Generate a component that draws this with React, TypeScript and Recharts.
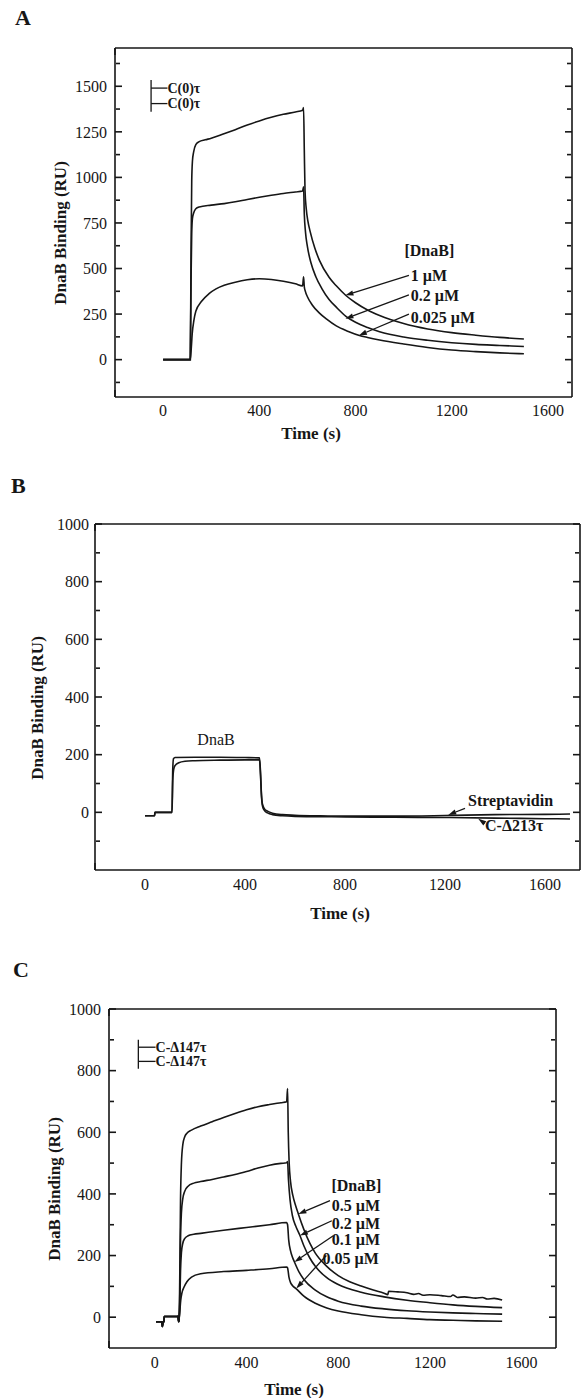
import React from 'react';
import { LineChart, Line, XAxis, YAxis, ReferenceLine, ReferenceDot, Label } from 'recharts';

const SERIF = '"Liberation Serif", "Times New Roman", "DejaVu Serif", serif';
const INK = '#161616';

// ---- panel A: C(0)tau surface, [time s, RU]
const a1uM = [
  [0, 0], [113, 0], [116, 550], [119, 980], [122, 1090], [127, 1140], [136, 1180], [150, 1196],
  [175, 1206], [200, 1215], [250, 1238], [300, 1262], [350, 1287], [400, 1310], [450, 1330],
  [500, 1346], [550, 1359], [580, 1368], [584, 1383], [587, 1150], [590, 930], [595, 830],
  [602, 760], [612, 700], [630, 615], [650, 545], [690, 452], [720, 405], [760, 352], [800, 312],
  [850, 272], [900, 242], [1000, 198], [1100, 168], [1200, 148], [1300, 134], [1400, 122], [1500, 113],
];
const a02uM = [
  [0, 0], [113, 0], [116, 420], [119, 700], [122, 775], [127, 805], [136, 828], [150, 838],
  [200, 848], [254, 856], [300, 866], [350, 879], [400, 891], [450, 902], [500, 912], [550, 920],
  [580, 925], [584, 948], [587, 800], [592, 700], [600, 620], [615, 530], [635, 455], [660, 390],
  [690, 330], [720, 288], [760, 238], [800, 205], [850, 176], [900, 153], [1000, 124], [1100, 106],
  [1200, 93], [1300, 84], [1400, 78], [1500, 72],
];
const a0025uM = [
  [0, 0], [113, 0], [117, 60], [121, 143], [128, 215], [136, 265], [160, 320], [191, 362],
  [220, 388], [254, 408], [300, 425], [350, 438], [400, 444], [450, 440], [500, 430], [550, 416],
  [580, 405], [584, 455], [587, 400], [592, 372], [600, 345], [620, 300], [650, 255], [680, 222],
  [720, 185], [770, 155], [816, 133], [850, 122], [900, 108], [1000, 86], [1100, 67], [1200, 53],
  [1300, 44], [1400, 37], [1500, 32],
];
const aArrows = [[1022, 463, 758, 353], [1022, 355, 758, 225], [1022, 250, 814, 133]];
const aLabels: [number, number, string][] = [[1030, 463, '1 µM'], [1030, 353, '0.2 µM'], [1030, 232, '0.025 µM']];

// ---- panel B: DnaB over streptavidin / C-Δ213τ
const bStrept = [
  [0, -12], [38, -12], [40, 0], [108, 0], [111, 150], [114, 186], [120, 190], [200, 191],
  [300, 191], [400, 190], [458, 189], [462, 140], [466, 60], [470, 28], [478, 12], [490, 4],
  [510, -3], [550, -8], [600, -10], [700, -12], [800, -13], [1000, -13], [1200, -11], [1400, -8],
  [1600, -7], [1700, -6],
];
const bDelta213 = [
  [0, -12], [38, -12], [40, 0], [108, 0], [111, 110], [115, 150], [120, 162], [135, 172],
  [160, 177], [200, 179], [300, 181], [400, 182], [458, 182], [462, 130], [466, 55], [470, 22],
  [478, 6], [490, -2], [510, -8], [550, -12], [600, -14], [700, -15], [800, -16], [1000, -17],
  [1200, -18], [1400, -20], [1600, -22], [1700, -23],
];

// ---- panel C: C-Δ147τ surface
const cStart = [[5, -15], [30, -15], [33, -30], [36, -15], [40, -14], [41, 2], [98, 2], [101, 3], [104, -15], [106, -5]];
const c05uM = [
  [109, 150], [112, 380], [116, 500], [122, 560], [130, 585], [140, 597], [160, 607], [200, 620],
  [250, 634], [300, 648], [350, 661], [400, 673], [450, 683], [500, 690], [550, 696], [575, 699],
  [579, 742], [582, 600], [586, 500], [592, 440], [602, 395], [615, 360], [626, 335], [650, 285],
  [676, 240], [700, 208], [750, 165], [800, 135], [850, 115], [900, 101], [953, 88], [1000, 78],
  [1016, 73], [1020, 84], [1060, 82], [1100, 79], [1130, 74], [1150, 77], [1170, 71], [1200, 73],
  [1250, 70], [1290, 67], [1300, 72], [1320, 64], [1350, 66], [1400, 62], [1430, 64], [1450, 59],
  [1480, 61], [1515, 56],
];
const c02uM = [
  [109, 80], [112, 250], [116, 340], [122, 385], [130, 408], [145, 425], [170, 435], [200, 440],
  [250, 447], [300, 455], [350, 463], [400, 473], [450, 484], [500, 493], [550, 499], [575, 501],
  [579, 505], [583, 445], [590, 380], [600, 330], [615, 295], [633, 265], [650, 232], [676, 192],
  [700, 165], [750, 128], [800, 106], [900, 81], [1000, 66], [1100, 55], [1200, 47], [1300, 40],
  [1400, 35], [1515, 31],
];
const c01uM = [
  [109, 50], [112, 150], [116, 210], [122, 240], [130, 255], [145, 264], [170, 269], [200, 272],
  [300, 282], [400, 291], [500, 300], [575, 307], [579, 300], [584, 250], [592, 215], [600, 195],
  [609, 179], [630, 145], [650, 122], [700, 88], [750, 66], [800, 52], [900, 36], [1000, 27],
  [1100, 21], [1200, 17], [1300, 14], [1400, 12], [1515, 10],
];
const c005uM = [
  [109, 20], [113, 55], [118, 78], [127, 97], [140, 115], [160, 130], [200, 141], [300, 148],
  [400, 152], [500, 157], [575, 163], [579, 160], [585, 130], [592, 112], [600, 103], [617, 92],
  [650, 68], [700, 45], [750, 30], [800, 20], [900, 8], [1000, 0], [1100, -4], [1200, -8],
  [1300, -10], [1400, -12], [1515, -13],
];
const cArrows = [[764, 378, 626, 335], [772, 313, 633, 265], [780, 265, 609, 179], [748, 200, 617, 93]];
const cLabels: [number, number, string][] = [[772, 362, '0.5 µM'], [772, 303, '0.2 µM'], [772, 251, '0.1 µM'], [731, 190, '0.05 µM']];

// ---- ticks
const xMajor = [0, 400, 800, 1200, 1600];
const xMinor = [200, 600, 1000, 1400];
const aYMajor = [0, 250, 500, 750, 1000, 1250, 1500];
const aYMinor = [-125, 125, 375, 625, 875, 1125, 1375, 1625];
const bcYMajor = [0, 200, 400, 600, 800, 1000];
const bYMinor = [-100, 100, 300, 500, 700, 900];
const cYMinor = [100, 300, 500, 700, 900];

const pts = (arr: number[][]) => arr.map(([x, y]) => ({ x, y }));
const AXIS = { stroke: INK, strokeWidth: 1.6 };
const tickFont = { fontFamily: SERIF, fontSize: 16, fill: INK };
const blank = () => '';

// inward ticks on all four sides (mirrored axes take no room)
function frameAxes(xDom: number[], yDom: number[], yMajor: number[], yMinor: number[], anchor: number[][]) {
  const base = { type: 'number' as const, allowDataOverflow: true, mirror: true, tickFormatter: blank, interval: 0 as const };
  const ghost = pts(anchor);
  return [
    <XAxis key="xb" xAxisId="xb" orientation="bottom" height={1} domain={xDom} ticks={xMajor} tickSize={7} axisLine={AXIS} tickLine={AXIS} {...base} />,
    <XAxis key="xbm" xAxisId="xbm" orientation="bottom" height={1} domain={xDom} ticks={xMinor} tickSize={4} axisLine={false} tickLine={AXIS} {...base} />,
    <XAxis key="xt" xAxisId="xt" orientation="top" height={1} domain={xDom} ticks={xMajor} tickSize={7} axisLine={AXIS} tickLine={AXIS} {...base} />,
    <XAxis key="xtm" xAxisId="xtm" orientation="top" height={1} domain={xDom} ticks={xMinor} tickSize={4} axisLine={false} tickLine={AXIS} {...base} />,
    <YAxis key="yl" yAxisId="yl" orientation="left" width={1} domain={yDom} ticks={yMajor} tickSize={7} axisLine={AXIS} tickLine={AXIS} {...base} />,
    <YAxis key="ylm" yAxisId="ylm" orientation="left" width={1} domain={yDom} ticks={yMinor} tickSize={4} axisLine={false} tickLine={AXIS} {...base} />,
    <YAxis key="yr" yAxisId="yr" orientation="right" width={1} domain={yDom} ticks={yMajor} tickSize={7} axisLine={AXIS} tickLine={AXIS} {...base} />,
    <YAxis key="yrm" yAxisId="yrm" orientation="right" width={1} domain={yDom} ticks={yMinor} tickSize={4} axisLine={false} tickLine={AXIS} {...base} />,
    <Line key="g1" xAxisId="xb" yAxisId="yl" data={ghost} dataKey="y" stroke="none" dot={false} isAnimationActive={false} />,
    <Line key="g2" xAxisId="xbm" yAxisId="ylm" data={ghost} dataKey="y" stroke="none" dot={false} isAnimationActive={false} />,
    <Line key="g3" xAxisId="xt" yAxisId="yr" data={ghost} dataKey="y" stroke="none" dot={false} isAnimationActive={false} />,
    <Line key="g4" xAxisId="xtm" yAxisId="yrm" data={ghost} dataKey="y" stroke="none" dot={false} isAnimationActive={false} />,
  ];
}

const ArrowShape = (p: any) => {
  const { x1, y1, x2, y2 } = p;
  const ang = Math.atan2(y2 - y1, x2 - x1);
  const L = 8, W = 2.6;
  const bx = x2 - L * Math.cos(ang);
  const by = y2 - L * Math.sin(ang);
  const head = `${x2},${y2} ${bx - W * Math.sin(ang)},${by + W * Math.cos(ang)} ${bx + W * Math.sin(ang)},${by - W * Math.cos(ang)}`;
  return (
    <g>
      <line x1={x1} y1={y1} x2={bx} y2={by} stroke={INK} strokeWidth={1.3} />
      <polygon points={head} fill={INK} />
    </g>
  );
};

const arrow = (a: number[], k: string) => (
  <ReferenceLine key={k} segment={[{ x: a[0], y: a[1] }, { x: a[2], y: a[3] }]} ifOverflow="visible" shape={ArrowShape} />
);

const seg = (x1: number, y1: number, x2: number, y2: number, k: string) => (
  <ReferenceLine key={k} segment={[{ x: x1, y: y1 }, { x: x2, y: y2 }]} ifOverflow="visible" stroke={INK} strokeWidth={1.3} />
);

const note = (x: number, y: number, text: string, k: string, opts: { anchor?: string; bold?: boolean; size?: number } = {}) => (
  <ReferenceDot
    key={k}
    x={x}
    y={y}
    r={0}
    ifOverflow="visible"
    shape={(p: any) => (
      <text
        x={p.cx}
        y={p.cy}
        textAnchor={opts.anchor || 'start'}
        dominantBaseline="central"
        fontFamily={SERIF}
        fontSize={opts.size || 16}
        fontWeight={opts.bold === false ? 'normal' : 'bold'}
        fill={INK}
      >
        {text}
      </text>
    )}
  />
);

type PanelProps = {
  top: number;
  height: number;
  margin: { top: number; right: number; bottom: number; left: number };
  xDom: number[];
  yDom: number[];
  yMajor: number[];
  yMinor: number[];
  xTick: number;
  yTick: number;
  series: number[][][];
  xTitle: number[];
  yTitle: number[];
  children?: React.ReactNode;
};

function Panel(props: PanelProps) {
  const { top, height, margin, xDom, yDom, yMajor, yMinor, xTick, yTick, series, xTitle, yTitle, children } = props;
  return (
    <div style={{ position: 'absolute', left: 0, top }}>
      <LineChart width={586} height={height} margin={margin}>
        <XAxis dataKey="x" type="number" domain={xDom} ticks={xMajor} allowDataOverflow interval={0} height={30}
          tickLine={false} axisLine={false} tickSize={xTick} tickMargin={2} tick={tickFont}>
          <Label content={() => (
            <text x={xTitle[0]} y={xTitle[1]} textAnchor="middle" dominantBaseline="central"
              fontFamily={SERIF} fontSize={17} fontWeight="bold" fill={INK}>Time (s)</text>
          )} />
        </XAxis>
        <YAxis type="number" domain={yDom} ticks={yMajor} allowDataOverflow interval={0} width={60}
          tickLine={false} axisLine={false} tickSize={yTick} tickMargin={2} tick={tickFont}>
          <Label content={() => (
            <text x={yTitle[0]} y={yTitle[1]} textAnchor="middle" dominantBaseline="central"
              transform={`rotate(-90 ${yTitle[0]} ${yTitle[1]})`}
              fontFamily={SERIF} fontSize={17} fontWeight="bold" fill={INK}>DnaB Binding (RU)</text>
          )} />
        </YAxis>
        {frameAxes(xDom, yDom, yMajor, yMinor, series[0])}
        {series.map((s, i) => (
          <Line key={i} data={pts(s)} dataKey="y" type="monotone" dot={false} stroke={INK}
            strokeWidth={1.6} isAnimationActive={false} />
        ))}
        {children}
      </LineChart>
    </div>
  );
}

const letter = (ch: string, left: number, top: number) => (
  <div style={{ position: 'absolute', left, top, fontFamily: SERIF, fontWeight: 'bold', fontSize: 22, lineHeight: '22px', color: INK }}>
    {ch}
  </div>
);

export default function App() {
  return (
    <div style={{ position: 'absolute', left: 0, top: 0, width: 586, height: 1398, background: '#fff' }}>
      {letter('A', 15, 7)}
      {letter('B', 11, 475)}
      {letter('C', 13, 959)}

      <Panel top={0} height={460} margin={{ top: 48, right: 14, bottom: 33, left: 55 }}
        xDom={[-200, 1700]} yDom={[-205, 1710]} yMajor={aYMajor} yMinor={aYMinor} xTick={6} yTick={6}
        series={[a1uM, a02uM, a0025uM]} xTitle={[311, 433]} yTitle={[60, 233]}>
        {seg(-50, 1360, -50, 1535, 'lv')}
        {seg(-50, 1490, 18, 1490, 'l1')}
        {seg(-50, 1405, 18, 1405, 'l2')}
        {note(18, 1490, 'C(0)τ', 'lt1', { size: 14 })}
        {note(18, 1405, 'C(0)τ', 'lt2', { size: 14 })}
        {note(1107, 600, '[DnaB]', 'hd', { anchor: 'middle' })}
        {aLabels.map((l, i) => note(l[0], l[1], l[2], 'al' + i))}
        {aArrows.map((a, i) => arrow(a, 'aa' + i))}
      </Panel>

      <Panel top={470} height={460} margin={{ top: 54, right: 6, bottom: 30, left: 35 }}
        xDom={[-200, 1740]} yDom={[-200, 1000]} yMajor={bcYMajor} yMinor={bYMinor} xTick={7} yTick={4}
        series={[bStrept, bDelta213]} xTitle={[340, 443]} yTitle={[37, 238]}>
        {note(284, 253, 'DnaB', 'bd', { anchor: 'middle', bold: false, size: 16 })}
        {note(1292, 40, 'Streptavidin', 'bs')}
        {note(1360, -46, 'C-Δ213τ', 'bc')}
        {arrow([1280, 14, 1213, -9], 'ba1')}
        {arrow([1356, -36, 1333, -22], 'ba2')}
      </Panel>

      <Panel top={910} height={488} margin={{ top: 99, right: 30, bottom: 20, left: 49 }}
        xDom={[-200, 1750]} yDom={[-100, 1000]} yMajor={bcYMajor} yMinor={cYMinor} xTick={7} yTick={6}
        series={[cStart.concat(c05uM), cStart.concat(c02uM), cStart.concat(c01uM), cStart.concat(c005uM)]}
        xTitle={[294, 479]} yTitle={[54, 279]}>
        {seg(-72, 806, -72, 900, 'cv')}
        {seg(-72, 876, 3, 876, 'c1')}
        {seg(-72, 830, 3, 830, 'c2')}
        {note(3, 876, 'C-Δ147τ', 'ct1', { size: 14 })}
        {note(3, 830, 'C-Δ147τ', 'ct2', { size: 14 })}
        {note(879, 426, '[DnaB]', 'chd', { anchor: 'middle' })}
        {cLabels.map((l, i) => note(l[0], l[1], l[2], 'cl' + i))}
        {cArrows.map((a, i) => arrow(a, 'ca' + i))}
      </Panel>
    </div>
  );
}
